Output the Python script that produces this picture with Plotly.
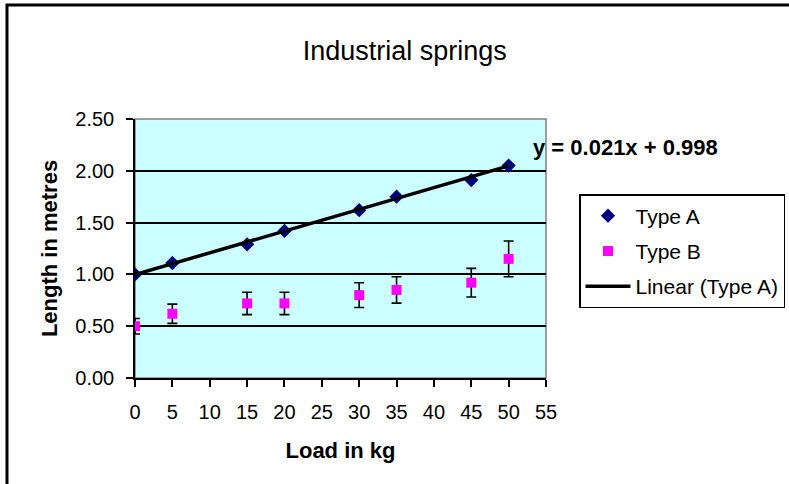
import numpy as np
import plotly.graph_objects as go

# ---- data ----
load_kg = [0, 5, 15, 20, 30, 35, 45, 50]
type_a = [1.00, 1.11, 1.29, 1.42, 1.62, 1.75, 1.91, 2.05]
type_b = [0.50, 0.62, 0.72, 0.72, 0.80, 0.85, 0.92, 1.15]
type_b_error_pct = 15
trend_slope = 0.021
trend_intercept = 0.998
x_ticks = list(range(0, 60, 5))
y_ticks = [0.0, 0.5, 1.0, 1.5, 2.0, 2.5]
y_tick_labels = ["0.00", "0.50", "1.00", "1.50", "2.00", "2.50"]

trend_x = [min(load_kg), max(load_kg)]
trend_y = [trend_slope * v + trend_intercept for v in trend_x]

FONT = "Liberation Sans, Arial, sans-serif"

fig = go.Figure()
fig.add_trace(go.Scatter(
    x=load_kg, y=type_a, mode="markers", name="Type A", legendgroup="a",
    marker=dict(symbol="diamond", size=11, color="#000080"),
))
fig.add_trace(go.Scatter(
    x=load_kg, y=type_b, mode="markers", name="Type B", legendgroup="b",
    marker=dict(symbol="square", size=10, color="#FF00FF"),
    error_y=dict(type="percent", value=type_b_error_pct, color="black",
                 thickness=1.6, width=5),
))
fig.add_trace(go.Scatter(
    x=trend_x, y=trend_y, mode="lines", name="Linear (Type A)", legendgroup="c",
    line=dict(color="black", width=3.5),
))

fig.update_layout(
    width=789, height=484,
    margin=dict(l=135, r=243, t=119, b=106, autoexpand=False),
    paper_bgcolor="white",
    plot_bgcolor="#CCFFFF",
    font=dict(family=FONT, size=20, color="black"),
    title=dict(text="Industrial springs", x=0.513, xref="container",
               xanchor="center", y=1 - 51 / 484, yref="container",
               yanchor="middle",
               font=dict(family=FONT, size=27, color="black")),
    showlegend=True,
    legend=dict(x=(579 - 135) / 411, y=1 - (194 - 119) / 259,
                xanchor="left", yanchor="top",
                bordercolor="black", borderwidth=1.5, bgcolor="white",
                font=dict(family=FONT, size=21, color="black"),
                tracegroupgap=5, itemwidth=45),
    xaxis=dict(range=[0, 55], tickvals=x_ticks, ticks="outside", ticklen=7,
               tickcolor="black", tickwidth=1.5,
               showline=True, linecolor="black", linewidth=1.5,
               showgrid=False, zeroline=False,
               tickfont=dict(family=FONT, size=20), ticklabelstandoff=8,
               title=dict(text="<b>Load in kg</b>", standoff=21,
                          font=dict(family=FONT, size=22))),
    yaxis=dict(range=[0, 2.5], tickvals=y_ticks, ticktext=y_tick_labels,
               ticks="outside", ticklen=7, tickcolor="black", tickwidth=1.5,
               showline=True, linecolor="black", linewidth=1.5,
               showgrid=True, gridcolor="black", gridwidth=1.5,
               zeroline=False,
               tickfont=dict(family=FONT, size=20), ticklabelstandoff=8,
               title=dict(text="<b>Length in metres</b>", standoff=12,
                          font=dict(family=FONT, size=22))),
    annotations=[dict(
        text="<b>y = 0.021x + 0.998</b>", xref="paper", yref="paper",
        x=(531 - 135) / 411, y=(378 - 147) / 259, xanchor="left",
        yanchor="middle", showarrow=False,
        font=dict(family=FONT, size=22, color="black"))],
    shapes=[
        # gray plot-area border (top/right)
        dict(type="rect", xref="paper", yref="paper", x0=0, y0=0, x1=1, y1=1,
             line=dict(color="#808080", width=1.5), layer="below"),
        # outer chart frame
        dict(type="rect", xref="paper", yref="paper",
             x0=(7 - 135) / 411, y0=(378 - 5) / 259,
             x1=(800 - 135) / 411, y1=(378 - 500) / 259,
             line=dict(color="black", width=3)),
    ],
)

fig.write_html(
    "out.html",
    config={"displayModeBar": False},
    post_script="document.body.style.margin='0';"
                "document.body.style.overflow='hidden';",
)
